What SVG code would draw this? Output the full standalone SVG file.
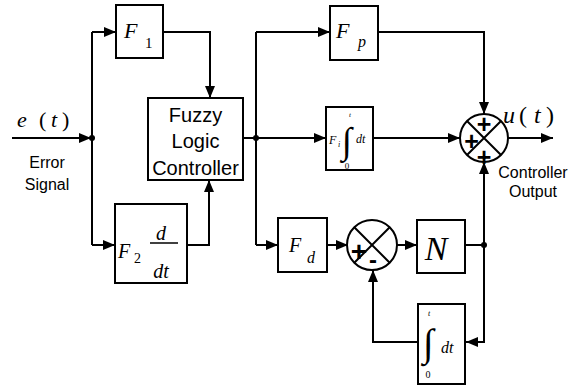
<svg xmlns="http://www.w3.org/2000/svg" width="568" height="389" viewBox="0 0 568 389">
<defs>
<marker id="ah" viewBox="0 0 12 10" refX="12" refY="5" markerWidth="12" markerHeight="10" markerUnits="userSpaceOnUse" orient="auto">
<path d="M0,0 L12,5 L0,10 Z" fill="#000"/>
</marker>
<style>
.box{fill:#fff;stroke:#000;stroke-width:2}
.ln{fill:none;stroke:#000;stroke-width:2}
.ar{fill:none;stroke:#000;stroke-width:2;marker-end:url(#ah)}
.m{font-family:"Liberation Serif","Times New Roman",serif;font-style:italic;fill:#000}
.mu{font-family:"Liberation Serif","Times New Roman",serif;fill:#000}
.s{font-family:"Liberation Sans",Arial,sans-serif;fill:#000}
.sg{font-family:"Liberation Sans",Arial,sans-serif;font-weight:bold;fill:#000;text-anchor:middle}
.dot{fill:#000}
</style>
</defs>
<rect width="568" height="389" fill="#fff"/>

<g id="connectors">
<path class="ar" d="M12,138 H91"/>
<path class="ln" d="M92,245 V32"/>
<path class="ar" d="M92,32 H116"/>
<path class="ar" d="M92,245 H115"/>
<path class="ar" d="M163,32 H210 V98"/>
<path class="ar" d="M187,245 H209 V180"/>
<path class="ln" d="M243,138 H256"/>
<path class="ln" d="M256,32 V245"/>
<path class="ar" d="M256,32 H330"/>
<path class="ar" d="M256,138 H326"/>
<path class="ar" d="M256,245 H278"/>
<path class="ar" d="M378,32 H484 V114"/>
<path class="ar" d="M373,138 H460"/>
<path class="ar" d="M508,138 H553"/>
<path class="ar" d="M327,245 H348"/>
<path class="ar" d="M397,245 H417"/>
<path class="ln" d="M465,245 H484"/>
<path class="ar" d="M484,245 V162"/>
<path class="ar" d="M484,245 V342 H466"/>
<path class="ar" d="M418,342 H373 V270"/>
<circle class="dot" cx="92" cy="138" r="3"/>
<circle class="dot" cx="256" cy="138" r="3"/>
<circle class="dot" cx="484" cy="245" r="3"/>
</g>

<g id="input-label">
<text class="m" x="17" y="127" font-size="22">e</text>
<text class="mu" x="39" y="127" font-size="22">(</text>
<text class="m" x="51" y="127" font-size="22">t</text>
<text class="mu" x="62" y="127" font-size="22">)</text>
<text class="s" x="47" y="168" font-size="16" text-anchor="middle">Error</text>
<text class="s" x="47" y="190" font-size="16" text-anchor="middle">Signal</text>
</g>

<g id="F1">
<rect class="box" x="116" y="5" width="47" height="53"/>
<text class="m" x="124" y="38" font-size="22">F</text>
<text class="mu" x="145" y="48" font-size="15">1</text>
</g>

<g id="F2">
<rect class="box" x="115" y="204" width="72" height="79"/>
<text class="m" x="118" y="258" font-size="20">F</text>
<text class="mu" x="134" y="263" font-size="14">2</text>
<line x1="150" y1="243" x2="178" y2="243" stroke="#000" stroke-width="1.5"/>
<text class="m" x="161" y="240" font-size="20" text-anchor="middle">d</text>
<text class="m" x="161" y="278" font-size="20" text-anchor="middle">dt</text>
</g>

<g id="FLC">
<rect class="box" x="148" y="98" width="95" height="82"/>
<text class="s" x="195.5" y="122" font-size="20" text-anchor="middle">Fuzzy</text>
<text class="s" x="195.5" y="148" font-size="20" text-anchor="middle">Logic</text>
<text class="s" x="195.5" y="175" font-size="20" text-anchor="middle">Controller</text>
</g>

<g id="Fp">
<rect class="box" x="330" y="6" width="48" height="54"/>
<text class="m" x="336" y="38" font-size="22">F</text>
<text class="m" x="358" y="47" font-size="16">p</text>
</g>

<g id="Fi">
<rect class="box" x="326" y="107" width="47" height="63"/>
<text class="m" x="329" y="144" font-size="12">F</text>
<text class="m" x="338" y="147" font-size="8">i</text>
<text class="m" x="349" y="117" font-size="7">t</text>
<text class="mu" x="347" y="153" font-size="37" text-anchor="middle">∫</text>
<text class="m" x="356" y="143" font-size="12">dt</text>
<text class="mu" x="347" y="169" font-size="9" text-anchor="middle">0</text>
</g>

<g id="sum">
<circle cx="484" cy="138" r="24" fill="#fff" stroke="#000" stroke-width="2"/>
<path class="ln" d="M467,121 L501,155 M501,121 L467,155"/>
<text class="sg" x="484" y="133" font-size="25">+</text>
<text class="sg" x="471.5" y="150" font-size="25">+</text>
<text class="sg" x="484" y="166" font-size="25">+</text>
</g>

<g id="output-label">
<text class="m" x="503" y="123" font-size="24">u</text>
<text class="mu" x="519" y="123" font-size="24">(</text>
<text class="m" x="534" y="123" font-size="24">t</text>
<text class="mu" x="546" y="123" font-size="24">)</text>
<text class="s" x="533" y="178" font-size="16" text-anchor="middle">Controller</text>
<text class="s" x="533" y="197" font-size="16" text-anchor="middle">Output</text>
</g>

<g id="Fd">
<rect class="box" x="278" y="218" width="49" height="54"/>
<text class="m" x="289" y="252" font-size="20">F</text>
<text class="m" x="307" y="263" font-size="16">d</text>
</g>

<g id="diff">
<circle cx="372" cy="245" r="25" fill="#fff" stroke="#000" stroke-width="2"/>
<path class="ln" d="M354.3,227.3 L389.7,262.7 M389.7,227.3 L354.3,262.7"/>
<text class="sg" x="359" y="261" font-size="28">+</text>
<text class="sg" x="373" y="268" font-size="24">-</text>
</g>

<g id="N">
<rect class="box" x="417" y="220" width="48" height="53"/>
<text class="m" x="436" y="260" font-size="34" text-anchor="middle">N</text>
</g>

<g id="integrator">
<rect class="box" x="418" y="304" width="47" height="80"/>
<text class="m" x="428" y="316" font-size="8">t</text>
<text class="mu" x="428" y="356" font-size="39" text-anchor="middle">∫</text>
<text class="m" x="441" y="353" font-size="16">dt</text>
<text class="mu" x="428" y="378" font-size="10" text-anchor="middle">0</text>
</g>
</svg>
